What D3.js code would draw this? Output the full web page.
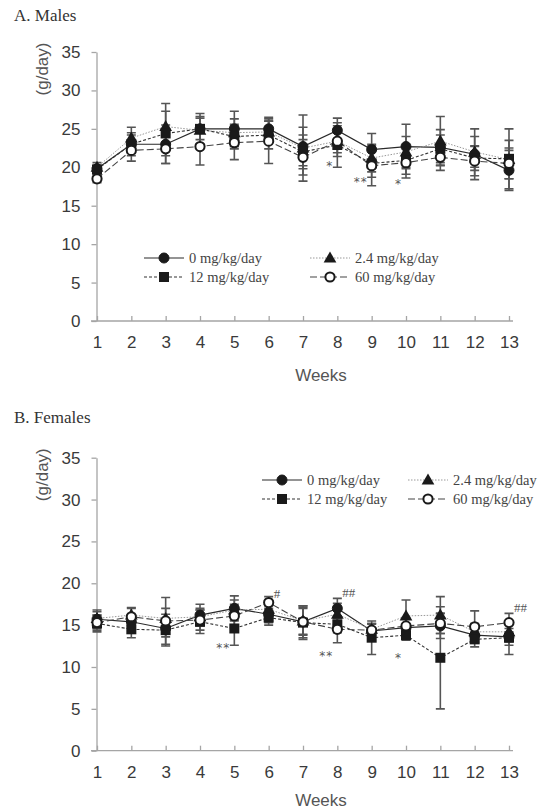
<!DOCTYPE html>
<html>
<head>
<meta charset="utf-8">
<script src="https://cdn.jsdelivr.net/npm/d3@7"></script>
<style>
  body { margin: 0; background: #fff; }
  svg { display: block; }
</style>
</head>
<body>
<svg id="chart" width="540" height="810"></svg>
<script>
const weeks = [1, 2, 3, 4, 5, 6, 7, 8, 9, 10, 11, 12, 13];
const yTicks = [0, 5, 10, 15, 20, 25, 30, 35];
const doseLabels = ['0 mg/kg/day', '2.4 mg/kg/day', '12 mg/kg/day', '60 mg/kg/day'];

// Males, mean food consumption (g/day) and SD
const maleMean0 = [19.8, 23.0, 23.0, 25.0, 25.0, 25.0, 22.7, 24.8, 22.3, 22.7, 22.6, 21.7, 19.6];
const maleMean24 = [20.0, 23.8, 25.3, 24.8, 24.5, 24.6, 22.5, 23.4, 21.2, 22.0, 23.4, 22.0, 21.0];
const maleMean12 = [19.7, 23.0, 24.4, 25.0, 24.0, 24.2, 22.0, 22.9, 20.5, 20.9, 22.4, 21.2, 21.1];
const maleMean60 = [18.5, 22.2, 22.4, 22.7, 23.2, 23.4, 21.3, 23.4, 20.2, 20.6, 21.3, 20.8, 20.5];
const maleSd0 = [0.5, 1.2, 2.5, 2.0, 2.3, 1.5, 2.5, 1.6, 2.1, 2.9, 2.3, 3.3, 2.6];
const maleSd24 = [0.6, 1.4, 3.0, 1.8, 1.8, 1.4, 4.3, 1.5, 1.8, 2.0, 3.2, 2.0, 2.5];
const maleSd12 = [0.5, 1.5, 2.9, 1.4, 1.6, 1.8, 2.2, 2.9, 1.8, 1.8, 1.8, 1.6, 3.9];
const maleSd60 = [0.5, 1.4, 1.9, 2.4, 2.2, 2.9, 2.3, 2.0, 2.6, 2.0, 1.7, 1.9, 2.0];

// Females
const femaleMean0 = [15.7, 15.4, 14.6, 16.2, 17.0, 16.3, 15.4, 17.0, 14.3, 14.7, 14.9, 13.8, 13.6];
const femaleMean24 = [15.8, 16.2, 15.8, 16.0, 16.8, 16.9, 15.5, 16.3, 14.5, 16.1, 16.2, 14.2, 14.2];
const femaleMean12 = [15.2, 14.5, 14.4, 15.4, 14.6, 15.9, 15.3, 15.1, 13.5, 13.8, 11.1, 13.3, 13.5];
const femaleMean60 = [15.3, 16.0, 15.5, 15.6, 16.1, 17.7, 15.4, 14.5, 14.4, 14.9, 15.2, 14.8, 15.3];
const femaleSd0 = [1.1, 0.8, 1.0, 1.3, 1.5, 1.0, 1.9, 1.2, 0.8, 1.0, 1.5, 0.8, 1.0];
const femaleSd24 = [0.8, 0.9, 1.2, 1.0, 1.2, 1.0, 1.6, 1.3, 0.7, 1.9, 2.2, 1.0, 1.2];
const femaleSd12 = [1.0, 1.0, 1.9, 1.4, 2.0, 0.9, 2.0, 1.0, 2.0, 0.6, 6.1, 0.9, 2.0];
const femaleSd60 = [0.9, 1.0, 2.8, 1.2, 1.4, 0.7, 1.6, 1.6, 0.8, 1.0, 1.2, 1.9, 1.1];

// Significance marks: week, label, value level where the mark sits
const maleMarks = [
  {week: 8, label: '*', value: 20.5},
  {week: 9, label: '**', value: 18.5},
  {week: 10, label: '*', value: 18.2},
];
const femaleMarks = [
  {week: 5, label: '**', value: 12.6},
  {week: 6, label: '#', value: 18.8},
  {week: 8, label: '##', value: 19.0},
  {week: 8, label: '**', value: 11.7},
  {week: 10, label: '*', value: 11.4},
  {week: 13, label: '##', value: 17.2},
];

const styles = [
  {marker: 'circle', fill: '#1a1a1a', dash: null, lineColor: '#2a2a2a', lineWidth: 1.2},
  {marker: 'triangle', fill: '#1a1a1a', dash: '1.5 1.5', lineColor: '#999', lineWidth: 1},
  {marker: 'square', fill: '#1a1a1a', dash: '3 2', lineColor: '#333', lineWidth: 1.1},
  {marker: 'circle', fill: '#fff', dash: '7 3', lineColor: '#444', lineWidth: 1.1},
];

const svg = d3.select('#chart');
const serif = '"Liberation Serif", "Times New Roman", serif';
const sans = '"Liberation Sans", Arial, sans-serif';

function drawMarker(g, style, x, y) {
  if (style.marker === 'circle') {
    const open = style.fill === '#fff';
    g.append('circle').attr('cx', x).attr('cy', y).attr('r', open ? 4.6 : 5)
      .attr('fill', style.fill).attr('stroke', '#1a1a1a').attr('stroke-width', open ? 2 : 1);
  } else if (style.marker === 'square') {
    g.append('rect').attr('x', x - 5).attr('y', y - 5).attr('width', 10).attr('height', 10)
      .attr('fill', style.fill);
  } else {
    g.append('path').attr('d', d3.symbol(d3.symbolTriangle, 70)())
      .attr('transform', `translate(${x},${y + 0.8})`).attr('fill', style.fill);
  }
}

function panel({title, titleY, top, bottom, weeksGap, means, sds, marks, legendX, legendY, legendGap}) {
  const x = d3.scaleLinear().domain([1, 13]).range([97, 509]);
  const y = d3.scaleLinear().domain([0, 35]).range([bottom, top]);
  const g = svg.append('g');

  g.append('text').attr('x', 14).attr('y', titleY)
    .attr('font-family', serif).attr('font-size', 17).attr('fill', '#333').text(title);

  // y axis
  g.append('g').attr('transform', `translate(96.5,0)`)
    .call(d3.axisLeft(y).tickValues(yTicks).tickSize(5).tickSizeOuter(0).tickPadding(11))
    .call(a => a.selectAll('line, path').attr('stroke', '#a5a5a5').attr('stroke-width', 1.3))
    .call(a => a.selectAll('text').attr('font-family', sans).attr('font-size', 17).attr('fill', '#3a3a3a'));

  // x axis, ticks point inward
  g.append('g').attr('transform', `translate(0,${bottom})`)
    .call(d3.axisBottom(x).tickValues(weeks).tickSizeInner(-5).tickSizeOuter(0).tickPadding(15))
    .call(a => a.select('.domain').attr('d', `M${x(1) - 6},0H${x(13) + 4}`))
    .call(a => a.selectAll('line, path').attr('stroke', '#a5a5a5').attr('stroke-width', 1.3))
    .call(a => a.selectAll('text').attr('font-family', sans).attr('font-size', 17).attr('fill', '#3a3a3a'));

  g.append('text').attr('x', 321).attr('y', bottom + weeksGap).attr('text-anchor', 'middle')
    .attr('font-family', sans).attr('font-size', 17).attr('fill', '#555').text('Weeks');

  g.append('text').attr('transform', `translate(48,${top + 17}) rotate(-90)`).attr('text-anchor', 'middle')
    .attr('font-family', sans).attr('font-size', 17).attr('fill', '#555').text('(g/day)');

  // lines
  means.forEach((m, i) => {
    const line = d3.line().x((_, j) => x(weeks[j])).y(d => y(d));
    g.append('path').attr('d', line(m)).attr('fill', 'none')
      .attr('stroke', styles[i].lineColor).attr('stroke-width', styles[i].lineWidth)
      .attr('stroke-dasharray', styles[i].dash);
  });

  // error bars (mean ± SD)
  means.forEach((m, i) => {
    m.forEach((v, j) => {
      const cx = x(weeks[j]);
      const y1 = y(v + sds[i][j]), y0 = y(v - sds[i][j]);
      g.append('path').attr('d', `M${cx},${y0}V${y1}M${cx - 4.5},${y1}H${cx + 4.5}M${cx - 4.5},${y0}H${cx + 4.5}`)
        .attr('stroke', '#555').attr('stroke-width', 1.6).attr('fill', 'none');
    });
  });

  // markers
  means.forEach((m, i) => {
    m.forEach((v, j) => drawMarker(g, styles[i], x(weeks[j]), y(v)));
  });

  // significance marks
  marks.forEach(d => {
    const isStar = d.label.includes('*');
    g.append('text')
      .attr('x', x(d.week) + (isStar ? -4 : 5))
      .attr('y', y(d.value) + (isStar ? 7 : 5))
      .attr('text-anchor', isStar ? 'end' : 'start')
      .attr('font-family', isStar ? '"DejaVu Sans", sans-serif' : serif)
      .attr('font-size', isStar ? 12 : 13)
      .attr('fill', '#555').attr('letter-spacing', isStar ? 1 : 0)
      .text(d.label);
  });

  // legend
  doseLabels.forEach((label, i) => {
    const lx = legendX + (i % 2) * legendGap;
    const ly = legendY + Math.floor(i / 2) * 19;
    const s = styles[i];
    g.append('line').attr('x1', lx).attr('x2', lx + 40).attr('y1', ly).attr('y2', ly)
      .attr('stroke', s.lineColor).attr('stroke-width', s.lineWidth).attr('stroke-dasharray', s.dash);
    drawMarker(g, s, lx + 20, ly);
    g.append('text').attr('x', lx + 45).attr('y', ly + 5)
      .attr('font-family', serif).attr('font-size', 14.5).attr('fill', '#444').text(label);
  });
}

panel({
  title: 'A. Males', titleY: 21, top: 52, bottom: 321, weeksGap: 60,
  means: [maleMean0, maleMean24, maleMean12, maleMean60],
  sds: [maleSd0, maleSd24, maleSd12, maleSd60],
  marks: maleMarks, legendX: 144, legendY: 258, legendGap: 166,
});

panel({
  title: 'B. Females', titleY: 423, top: 457.7, bottom: 750.7, weeksGap: 55.5,
  means: [femaleMean0, femaleMean24, femaleMean12, femaleMean60],
  sds: [femaleSd0, femaleSd24, femaleSd12, femaleSd60],
  marks: femaleMarks, legendX: 262, legendY: 480, legendGap: 146,
});
</script>
</body>
</html>
